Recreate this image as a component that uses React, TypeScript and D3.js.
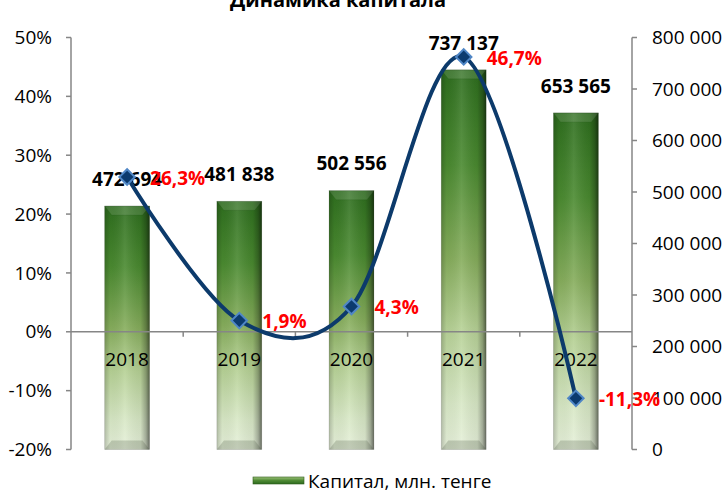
import React from "react";
import * as d3 from "d3";

const years = ["2018", "2019", "2020", "2021", "2022"];
const capital = [472694, 481838, 502556, 737137, 653565];
const growth = [26.3, 1.9, 4.3, 46.7, -11.3];
const leftTicks = [-20, -10, 0, 10, 20, 30, 40, 50];
const rightTicks = [0, 100000, 200000, 300000, 400000, 500000, 600000, 700000, 800000];
const title = "Динамика капитала";
const legendLabel = "Капитал, млн. тенге";

const W = 722, H = 491;
const L = 71, R = 632, T = 37.5, B = 449.5;
const FONT = "'Open Sans', 'Noto Sans', sans-serif";
const AXIS = "#868686";

const fmtNum = (v: number) => d3.format(",")(v).replace(/,/g, " ");
const fmtPct = (v: number) => v.toFixed(1).replace(".", ",") + "%";

export default function App() {
  const x = d3.scaleBand<string>().domain(years).range([L, R]).paddingInner(0.6).paddingOuter(0.3);
  const yL = d3.scaleLinear().domain([-20, 50]).range([B, T]);
  const yR = d3.scaleLinear().domain([0, 800000]).range([B, T]);
  const step = x.step();
  const bw = x.bandwidth();
  const cx = (c: string) => (x(c) as number) + bw / 2;
  const y0 = yL(0);

  const pts: [number, number][] = years.map((c, i) => [cx(c), yL(growth[i])]);
  const line = d3.line().curve(d3.curveCardinal.tension(0))(pts) as string;
  const diamond = d3.symbol().type(d3.symbolSquare).size(120)() as string;

  return (
    <svg width={W} height={H} style={{ position: "absolute", left: 0, top: 0, background: "#fff" }} fontFamily={FONT}>
      <defs>
        <linearGradient id="barV" x1="0" y1="0" x2="0" y2="1">
          <stop offset="0" stopColor="#2e6e1e" />
          <stop offset="0.25" stopColor="#4a8a30" />
          <stop offset="0.5" stopColor="#86ad5c" />
          <stop offset="0.68" stopColor="#b6d195" />
          <stop offset="0.88" stopColor="#d8e8c6" />
          <stop offset="1" stopColor="#e6f0da" />
        </linearGradient>
        <linearGradient id="barH" x1="0" y1="0" x2="1" y2="0">
          <stop offset="0" stopColor="#000" stopOpacity="0.2" />
          <stop offset="0.12" stopColor="#000" stopOpacity="0.03" />
          <stop offset="0.45" stopColor="#fff" stopOpacity="0.1" />
          <stop offset="0.8" stopColor="#000" stopOpacity="0.06" />
          <stop offset="0.92" stopColor="#000" stopOpacity="0.28" />
          <stop offset="1" stopColor="#000" stopOpacity="0.55" />
        </linearGradient>
        <linearGradient id="legG" x1="0" y1="0" x2="0" y2="1">
          <stop offset="0" stopColor="#9dc27a" />
          <stop offset="0.5" stopColor="#4f8a34" />
          <stop offset="1" stopColor="#2c6a1e" />
        </linearGradient>
      </defs>

      {/* title */}
      <text x={338} y={7} textAnchor="middle" fontSize={20} fontWeight="bold" fill="#000">{title}</text>

      {/* bars */}
      {years.map((c, i) => {
        const x0 = x(c) as number;
        const top = yR(capital[i]);
        const bot = yR(0);
        const bv = 9, inset = 7;
        return (
          <g key={c}>
            <rect x={x0} y={top} width={bw} height={bot - top} fill="url(#barV)" />
            <rect x={x0} y={top} width={bw} height={bot - top} fill="url(#barH)" />
            <polygon
              points={`${x0},${top} ${x0 + bw},${top} ${x0 + bw - inset},${top + bv} ${x0 + inset},${top + bv}`}
              fill="#fff" fillOpacity={0.12} stroke="#1e4a12" strokeOpacity={0.25} strokeWidth={0.6} />
            <polygon
              points={`${x0 + inset},${bot - bv} ${x0 + bw - inset},${bot - bv} ${x0 + bw},${bot} ${x0},${bot}`}
              fill="#3c4a30" fillOpacity={0.22} />
            <rect x={x0} y={top} width={bw} height={bot - top} fill="none" stroke="#000" strokeOpacity={0.15} strokeWidth={0.8} />
          </g>
        );
      })}

      {/* category axis at 0% */}
      <line x1={L} x2={R} y1={y0} y2={y0} stroke={AXIS} strokeWidth={1.5} />
      {d3.range(1, years.length).map((k) => (
        <line key={k} x1={L + k * step} x2={L + k * step} y1={y0} y2={y0 + 5} stroke={AXIS} strokeWidth={1.5} />
      ))}
      {years.map((c) => (
        <text key={c} x={cx(c)} y={y0 + 34} textAnchor="middle" fontSize={19} fill="#000">{c}</text>
      ))}

      {/* left axis */}
      <line x1={L} x2={L} y1={T} y2={B} stroke={AXIS} strokeWidth={1.5} />
      {leftTicks.map((t) => (
        <g key={t}>
          <line x1={L - 5} x2={L} y1={yL(t)} y2={yL(t)} stroke={AXIS} strokeWidth={1.5} />
          <text x={52} y={yL(t)} dy="0.35em" textAnchor="end" fontSize={19} fill="#000">{t + "%"}</text>
        </g>
      ))}

      {/* right axis */}
      <line x1={R} x2={R} y1={T} y2={B} stroke={AXIS} strokeWidth={1.5} />
      {rightTicks.map((t) => (
        <g key={t}>
          <line x1={R} x2={R + 5} y1={yR(t)} y2={yR(t)} stroke={AXIS} strokeWidth={1.5} />
          <text x={652} y={yR(t)} dy="0.35em" textAnchor="start" fontSize={19} fill="#000">{fmtNum(t)}</text>
        </g>
      ))}

      {/* bar labels */}
      {years.map((c, i) => (
        <text key={c} x={cx(c)} y={yR(capital[i]) - 27} dy="0.35em" textAnchor="middle" fontSize={19} fontWeight="bold" fill="#000">
          {fmtNum(capital[i])}
        </text>
      ))}

      {/* growth line */}
      <path d={line} fill="none" stroke="#0c3a6b" strokeWidth={4} />
      {pts.map(([px, py], i) => (
        <path key={i} d={diamond} transform={`translate(${px},${py}) rotate(45)`} fill="#0b3a6e" stroke="#4f86c6" strokeWidth={2} />
      ))}
      {pts.map(([px, py], i) => (
        <text key={i} x={px + 23} y={py + 1} dy="0.35em" textAnchor="start" fontSize={19} fontWeight="bold" fill="#ff0000">
          {fmtPct(growth[i])}
        </text>
      ))}

      {/* legend */}
      <rect x={253} y={477} width={51} height={7} fill="url(#legG)" stroke="#2c5a1a" strokeWidth={0.6} />
      <text x={308} y={481} dy="0.35em" fontSize={19} fill="#000">{legendLabel}</text>
    </svg>
  );
}
